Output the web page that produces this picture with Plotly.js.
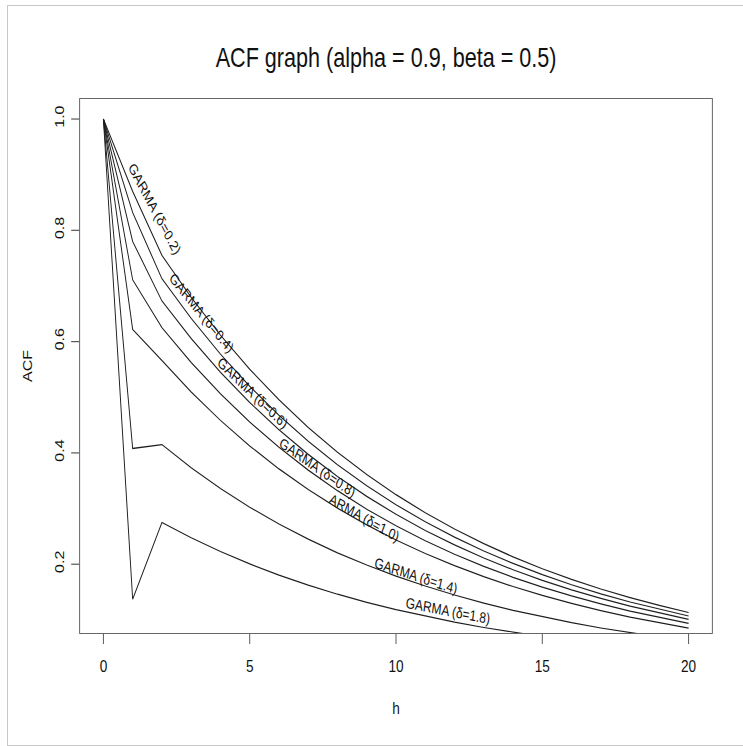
<!DOCTYPE html>
<html>
<head>
<meta charset="utf-8">
<script src="https://cdn.plot.ly/plotly-3.0.1.min.js"></script>
<style>
  html, body { margin: 0; padding: 0; background: #fff; overflow: hidden; }
  #wrap { position: relative; width: 743px; height: 746px; overflow: hidden; }
  #chart { position: absolute; left: 0; top: 0; width: 929px; height: 746px;
           transform: scaleX(0.8); transform-origin: 0 0; }
  #frame { position: absolute; left: 7px; top: 5px; width: 740px; height: 739px;
           border: 1px solid #c8c8c8; border-right: none; pointer-events: none; }
</style>
</head>
<body>
<div id="wrap">
  <div id="chart"></div>
  <div id="frame"></div>
</div>
<script>
// ---- data ----
const lags = [0,1,2,3,4,5,6,7,8,9,10,11,12,13,14,15,16,17,18,19,20];

const acfD02 = [1, 0.870, 0.755, 0.6795, 0.6116, 0.5504, 0.4954, 0.4458, 0.4012, 0.3611, 0.3250,
                0.2925, 0.2633, 0.2369, 0.2132, 0.1919, 0.1727, 0.1554, 0.1399, 0.1259, 0.1133];
const acfD04 = [1, 0.832, 0.713, 0.6417, 0.5775, 0.5198, 0.4678, 0.4210, 0.3789, 0.3410, 0.3069,
                0.2762, 0.2486, 0.2237, 0.2014, 0.1812, 0.1631, 0.1468, 0.1321, 0.1189, 0.1070];
const acfD06 = [1, 0.780, 0.673, 0.6057, 0.5451, 0.4906, 0.4416, 0.3974, 0.3577, 0.3219, 0.2897,
                0.2607, 0.2347, 0.2112, 0.1901, 0.1711, 0.1540, 0.1386, 0.1247, 0.1122, 0.1010];
const acfD08 = [1, 0.711, 0.625, 0.5625, 0.5063, 0.4556, 0.4101, 0.3691, 0.3322, 0.2989, 0.2690,
                0.2421, 0.2179, 0.1961, 0.1765, 0.1589, 0.1430, 0.1287, 0.1158, 0.1042, 0.0938];
const acfD10 = [1, 0.622, 0.566, 0.5094, 0.4585, 0.4126, 0.3713, 0.3342, 0.3008, 0.2707, 0.2436,
                0.2193, 0.1974, 0.1776, 0.1599, 0.1439, 0.1295, 0.1165, 0.1049, 0.0944, 0.0850];
const acfD14 = [1, 0.408, 0.415, 0.3735, 0.3362, 0.3025, 0.2723, 0.2451, 0.2205, 0.1985, 0.1786,
                0.1608, 0.1447, 0.1302, 0.1172, 0.1055, 0.0949, 0.0854, 0.0769, 0.0692, 0.0623];
const acfD18 = [1, 0.137, 0.275, 0.2475, 0.2228, 0.2005, 0.1804, 0.1624, 0.1461, 0.1315, 0.1184,
                0.1065, 0.0959, 0.0863, 0.0777, 0.0699, 0.0629, 0.0566, 0.0510, 0.0459, 0.0413];

const seriesLabels = ["GARMA (δ=0.2)", "GARMA (δ=0.4)", "GARMA (δ=0.6)", "GARMA (δ=0.8)",
                      "ARMA (δ=1.0)", "GARMA (δ=1.4)", "GARMA (δ=1.8)"];
const xTicks = [0, 5, 10, 15, 20];
const yTicks = [0.2, 0.4, 0.6, 0.8, 1.0];
const yTickText = ["0.2", "0.4", "0.6", "0.8", "1.0"];

// ---- chart ----
// The reference picture is horizontally compressed; the whole figure is drawn
// wider and squeezed with a CSS scaleX, so text looks condensed the same way.
const SQUEEZE = 0.8;
const allSeries = [acfD02, acfD04, acfD06, acfD08, acfD10, acfD14, acfD18];
const lineColor = "#1e1e1e";
const traces = allSeries.map((ys, i) => ({
  x: lags, y: ys, type: "scatter", mode: "lines",
  name: seriesLabels[i],
  line: { color: lineColor, width: 1.2 },
  hoverinfo: "skip"
}));

// label placement along the curves: h, ACF, apparent angle (deg)
const labelPos = [
  { h: 1.76,  v: 0.840,  a: 62 },
  { h: 3.35,  v: 0.652,  a: 51 },
  { h: 5.10,  v: 0.5086, a: 44 },
  { h: 7.33,  v: 0.3747, a: 35 },
  { h: 8.91,  v: 0.2831, a: 30 },
  { h: 10.68, v: 0.1806, a: 18 },
  { h: 11.78, v: 0.1177, a: 11 }
];
const sans = "'Liberation Sans', Arial, Helvetica, sans-serif";
const toRad = Math.PI / 180;
const squeezedAngle = a => Math.atan(SQUEEZE * Math.tan(a * toRad)) / toRad;

const annotations = seriesLabels.map((t, i) => ({
  x: labelPos[i].h, y: labelPos[i].v, xref: "x", yref: "y",
  text: t, showarrow: false, textangle: squeezedAngle(labelPos[i].a),
  font: { family: sans, size: 15, color: "#111" },
  xanchor: "center", yanchor: "middle"
}));

const layout = {
  width: 929, height: 746,
  margin: { l: 100, r: 39, t: 99, b: 113 },
  paper_bgcolor: "rgba(0,0,0,0)", plot_bgcolor: "rgba(0,0,0,0)",
  showlegend: false,
  title: {
    text: "ACF graph (alpha = 0.9, beta = 0.5)",
    font: { family: sans, size: 27, color: "#111" },
    x: 0.5195, xref: "container", xanchor: "center",
    y: 1 - 58 / 746, yref: "container", yanchor: "middle"
  },
  xaxis: {
    range: [-0.8, 20.8], tickvals: xTicks, ticktext: xTicks.map(String),
    showgrid: false, zeroline: false,
    showline: true, mirror: true, linecolor: "#555", linewidth: 1,
    ticks: "outside", ticklen: 10, tickcolor: "#555", tickwidth: 1.2,
    ticklabelstandoff: 8,
    tickfont: { family: sans, size: 17, color: "#111" },
    title: { text: "h", font: { family: sans, size: 17, color: "#111" }, standoff: 26 }
  },
  yaxis: {
    range: [0.0764, 1.036], tickvals: yTicks, ticktext: yTickText,
    showgrid: false, zeroline: false,
    showline: true, mirror: true, linecolor: "#555", linewidth: 1,
    ticks: "outside", ticklen: 10, tickcolor: "#555", tickwidth: 1.2,
    tickangle: -90, ticklabelstandoff: 2,
    tickfont: { family: sans, size: 16, color: "#111" },
    title: { text: "ACF", font: { family: sans, size: 16, color: "#111" }, standoff: 22 }
  },
  annotations: annotations
};

Plotly.newPlot("chart", traces, layout, { displayModeBar: false, staticPlot: true });
</script>
</body>
</html>
